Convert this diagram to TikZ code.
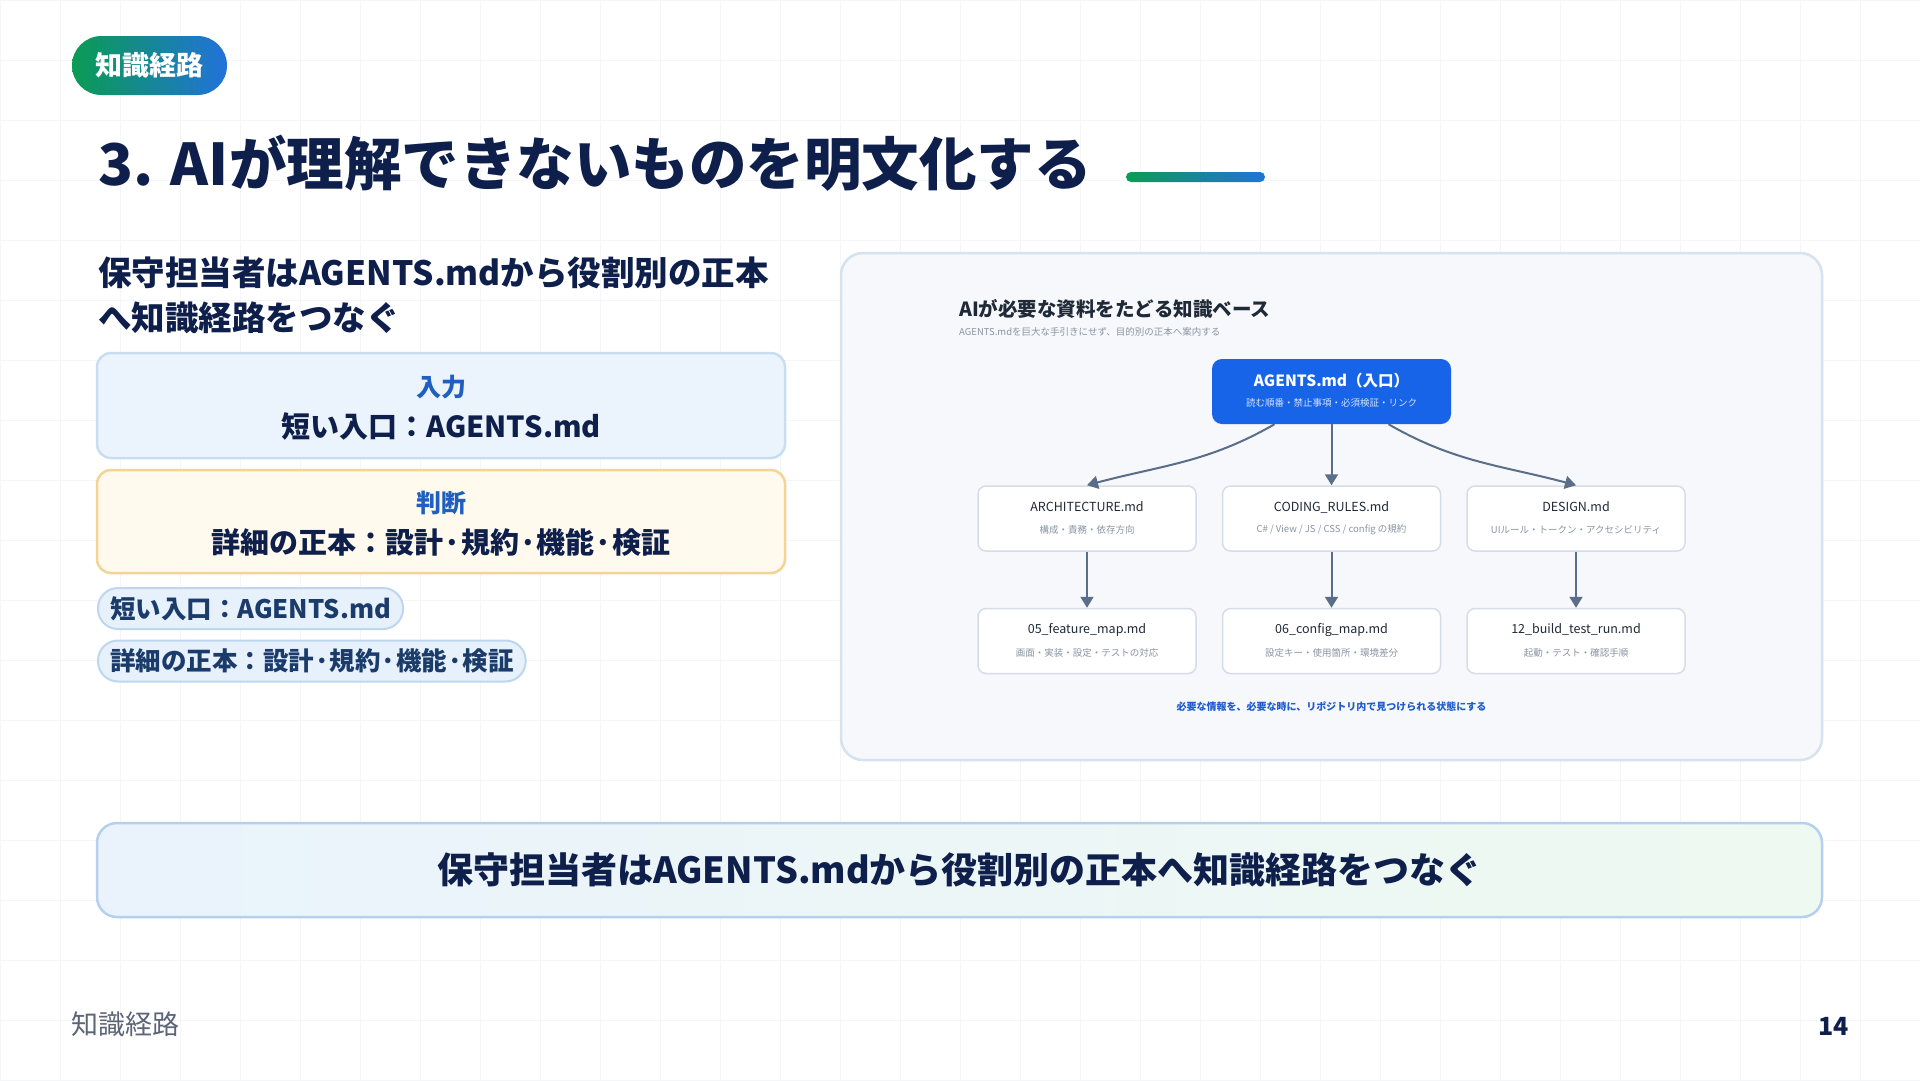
\documentclass[tikz,border=0pt]{standalone}
\usepackage{fontspec}
\setmainfont{Noto Sans CJK JP}
\usetikzlibrary{arrows.meta}
\definecolor{navy}{HTML}{0E1F4B}
\definecolor{tagA}{HTML}{0A9C52}
\definecolor{tagB}{HTML}{2272DB}
\definecolor{gridc}{HTML}{F5F6F9}
\definecolor{blueink}{HTML}{1F5FBF}
\definecolor{box1fill}{HTML}{EBF4FD}
\definecolor{box1line}{HTML}{C9DDF1}
\definecolor{box2fill}{HTML}{FFF9EE}
\definecolor{box2line}{HTML}{F2D496}
\definecolor{pillfill}{HTML}{E7F1FB}
\definecolor{pillline}{HTML}{BED7EF}
\definecolor{pillink}{HTML}{1B3C6B}
\definecolor{panelfill}{HTML}{F6F8FB}
\definecolor{panelline}{HTML}{D6E2EF}
\definecolor{agentsblue}{HTML}{1764E8}
\definecolor{cardline}{HTML}{D6DDE6}
\definecolor{ink}{HTML}{1F2937}
\definecolor{muted}{HTML}{8A94A3}
\definecolor{linkc}{HTML}{5A6E89}
\definecolor{noteblue}{HTML}{1E5BD0}
\definecolor{footgray}{HTML}{5B6575}
\definecolor{bannerL}{HTML}{EAF3FC}
\definecolor{bannerR}{HTML}{EEF9F1}
\definecolor{bannerline}{HTML}{B5D0EE}

\begin{document}
\begin{tikzpicture}[every node/.style={inner sep=0pt},
  fs/.style={font=\fontsize{#1}{#1}\selectfont},
  bfs/.style={font=\bfseries\fontsize{#1}{#1}\selectfont},
  leftbox/.style={rectangle, rounded corners=14pt, line width=2.5pt, minimum width=688pt},
  pill/.style={rectangle, rounded corners=20pt, fill=pillfill, draw=pillline, line width=2pt, minimum height=41pt, inner xsep=12pt, text=pillink, bfs=25.5},
  card/.style={rectangle, rounded corners=8pt, fill=white, draw=cardline, line width=1.5pt, minimum width=218pt, minimum height=65pt},
  cardtitle/.style={text=ink, fs=12.5},
  cardsub/.style={text=muted, fs=9.5},
  link/.style={draw=linkc, line width=2pt, -{Triangle[width=13pt,length=11pt]}}]
\useasboundingbox (0pt,0pt) rectangle (1920pt,-1080pt);
\fill[white] (0pt,0pt) rectangle (1920pt,-1080pt);
\draw[gridc, line width=1pt, step=60pt] (0pt,-1080pt) grid (1920pt,0pt);

% header
\node (tag) [rectangle, left color=tagA, right color=tagB, rounded corners=29.5pt, minimum width=155pt, minimum height=59pt, text=white, bfs=27] at (149.5pt, -65.5pt) {知識経路};
\node (title) [anchor=west, text=navy, bfs=57.5] at (98pt, -163pt) {3. AIが理解できないものを明文化する};
\shade[left color=tagA, right color=tagB, rounded corners=5pt] (1126pt,-172pt) rectangle (1265pt,-182pt);

% left column
\node (sub1) [anchor=west, text=navy, bfs=33.5] at (98pt, -273pt) {保守担当者はAGENTS.mdから役割別の正本};
\node (sub2) [anchor=west, text=navy, bfs=33.5] at (98pt, -318pt) {へ知識経路をつなぐ};

\node (inbox) [leftbox, fill=box1fill, draw=box1line, minimum height=105pt] at (441pt, -405.5pt) {};
\node (inlab) [text=blueink, bfs=25] at (441pt, -387pt) {入力};
\node (intxt) [text=navy, bfs=29] at (441pt, -426pt) {短い入口：AGENTS.md};

\node (judge) [leftbox, fill=box2fill, draw=box2line, minimum height=103pt] at (441pt, -521.5pt) {};
\node (judlab) [text=blueink, bfs=25] at (441pt, -503pt) {判断};
\node (judtxt) [text=navy, bfs=29] at (441pt, -542pt) {詳細の正本：設計·規約·機能·検証};

\node (pill1) [pill, anchor=west] at (97pt, -608.5pt) {短い入口：AGENTS.md};
\node (pill2) [pill, anchor=west] at (97pt, -661pt) {詳細の正本：設計·規約·機能·検証};

% right panel
\node (panel) [rectangle, rounded corners=22pt, fill=panelfill, draw=panelline, line width=2.5pt, minimum width=981pt, minimum height=507pt] at (1331.5pt, -506.5pt) {};
\node (ptitle) [anchor=west, text=ink, bfs=19.5] at (959pt, -309pt) {AIが必要な資料をたどる知識ベース};
\node (psub) [anchor=west, text=muted, fs=9.5] at (959pt, -332pt) {AGENTS.mdを巨大な手引きにせず、目的別の正本へ案内する};

\node (agents) [rectangle, rounded corners=10pt, fill=agentsblue, minimum width=239pt, minimum height=65pt] at (1331.5pt, -391.5pt) {};
\node (agtitle) [text=white, bfs=15.5] at (1331.5pt, -381pt) {AGENTS.md（入口）};
\node (agsub) [text=white!82!agentsblue, fs=9.5] at (1331.5pt, -403pt) {読む順番・禁止事項・必須検証・リンク};

\node (arch) [card] at (1087pt, -518.5pt) {};
\node (archt) [cardtitle] at (1087pt, -507pt) {ARCHITECTURE.md};
\node (archs) [cardsub] at (1087pt, -530pt) {構成・責務・依存方向};
\node (rules) [card] at (1331.5pt, -518.5pt) {};
\node (rulest) [cardtitle] at (1331.5pt, -507pt) {CODING\_RULES.md};
\node (ruless) [cardsub] at (1331.5pt, -530pt) {C\# / View / JS / CSS / config の規約};
\node (design) [card] at (1576pt, -518.5pt) {};
\node (designt) [cardtitle] at (1576pt, -507pt) {DESIGN.md};
\node (designs) [cardsub] at (1576pt, -530pt) {UIルール・トークン・アクセシビリティ};

\node (feat) [card] at (1087pt, -641pt) {};
\node (featt) [cardtitle] at (1087pt, -629.5pt) {05\_feature\_map.md};
\node (feats) [cardsub] at (1087pt, -652.5pt) {画面・実装・設定・テストの対応};
\node (conf) [card] at (1331.5pt, -641pt) {};
\node (conft) [cardtitle] at (1331.5pt, -629.5pt) {06\_config\_map.md};
\node (confs) [cardsub] at (1331.5pt, -652.5pt) {設定キー・使用箇所・環境差分};
\node (build) [card] at (1576pt, -641pt) {};
\node (buildt) [cardtitle] at (1576pt, -629.5pt) {12\_build\_test\_run.md};
\node (builds) [cardsub] at (1576pt, -652.5pt) {起動・テスト・確認手順};

\draw[link] ([xshift=-57pt]agents.south) to[out=-150, in=15] (arch.north);
\draw[link] (agents.south) -- (rules.north);
\draw[link] ([xshift=57pt]agents.south) to[out=-30, in=165] (design.north);
\draw[link] (arch) -- (feat);
\draw[link] (rules) -- (conf);
\draw[link] (design) -- (build);

\node (note) [text=noteblue, bfs=10] at (1331.5pt, -707pt) {必要な情報を、必要な時に、リポジトリ内で見つけられる状態にする};

% banner + footer
\node (banner) [rectangle, left color=bannerL, right color=bannerR, draw=bannerline, line width=2.5pt, rounded corners=20pt, minimum width=1725pt, minimum height=94pt, text=navy, bfs=36] at (959.5pt, -870pt) {保守担当者はAGENTS.mdから役割別の正本へ知識経路をつなぐ};
\node (foot) [anchor=west, text=footgray, fs=27] at (71pt, -1024pt) {知識経路};
\node (page) [anchor=east, text=navy, bfs=25] at (1849pt, -1026pt) {14};
\end{tikzpicture}
\end{document}
